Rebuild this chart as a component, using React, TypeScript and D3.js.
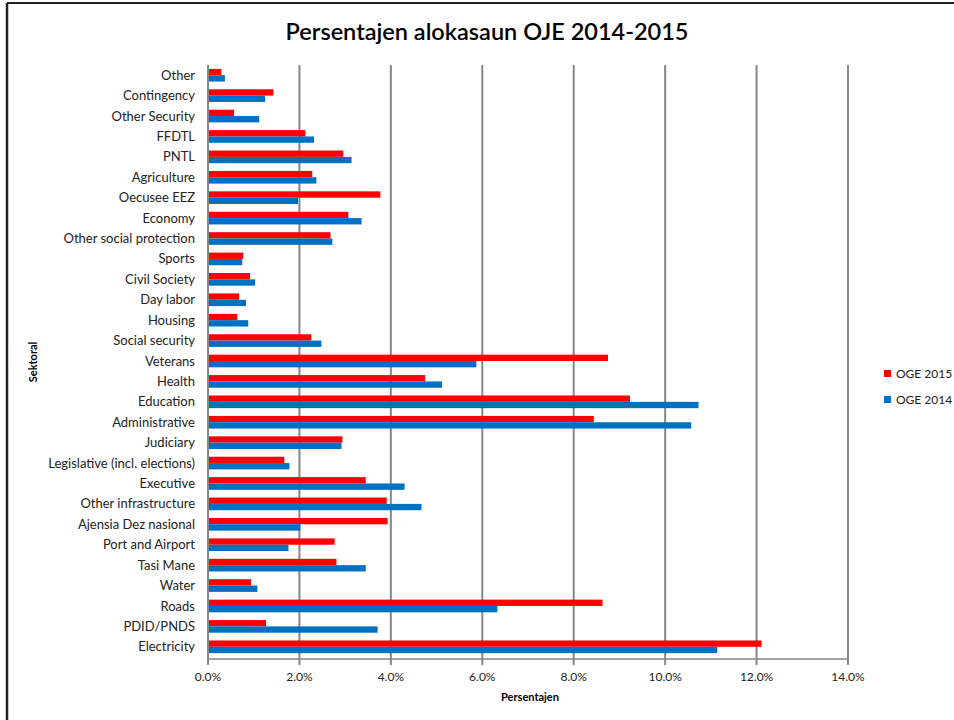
import React from "react";
import * as d3 from "d3";

const categories = [
  "Other", "Contingency", "Other Security", "FFDTL", "PNTL", "Agriculture",
  "Oecusee EEZ", "Economy", "Other social protection", "Sports", "Civil Society",
  "Day labor", "Housing", "Social security", "Veterans", "Health", "Education",
  "Administrative", "Judiciary", "Legislative (incl. elections)", "Executive",
  "Other infrastructure", "Ajensia Dez nasional", "Port and Airport", "Tasi Mane",
  "Water", "Roads", "PDID/PNDS", "Electricity",
];

const oge2015 = [
  0.29, 1.43, 0.57, 2.13, 2.96, 2.28, 3.77, 3.07, 2.68, 0.77, 0.92, 0.68, 0.64,
  2.26, 8.75, 4.75, 9.23, 8.44, 2.94, 1.67, 3.45, 3.91, 3.93, 2.77, 2.81, 0.94,
  8.63, 1.27, 12.11,
];

const oge2014 = [
  0.37, 1.25, 1.12, 2.32, 3.14, 2.37, 1.97, 3.36, 2.72, 0.75, 1.03, 0.83, 0.88,
  2.48, 5.87, 5.12, 10.73, 10.57, 2.92, 1.78, 4.30, 4.67, 2.02, 1.76, 3.45, 1.08,
  6.33, 3.71, 11.14,
];

const xTicks = [0, 2, 4, 6, 8, 10, 12, 14];
const seriesNames = ["OGE 2015", "OGE 2014"];
const seriesColors = ["#FF0000", "#0070C0"];
const seriesValues = [oge2015, oge2014];

const W = 954;
const H = 720;
const FONT = "Lato, 'Open Sans', sans-serif";

export default function App() {
  const left = 208;
  const right = 848;
  const top = 65;
  const bottom = 659;

  const x = d3.scaleLinear().domain([0, 14]).range([left, right]);
  const y = d3.scaleBand<string>().domain(categories).range([top, 657]).paddingInner(0.38).paddingOuter(0.19);
  const inner = d3.scaleBand<string>().domain(seriesNames).range([0, y.bandwidth()]);

  return (
    <svg width={W} height={H} style={{ position: "absolute", left: 0, top: 0, background: "#fff" }}>
      <rect x={0} y={0} width={W} height={H} fill="#fff" />
      {/* outer frame */}
      <line x1={7} y1={3} x2={W} y2={3} stroke="#222" strokeWidth={2} />
      <line x1={7} y1={3} x2={7} y2={H} stroke="#222" strokeWidth={2.5} />

      <text x={487} y={40} textAnchor="middle" fontFamily={FONT} fontSize={23.5} fontWeight={600} fill="#000">
        Persentajen alokasaun OJE  2014-2015
      </text>

      {/* gridlines */}
      {xTicks.map((t) => (
        <line key={"g" + t} x1={x(t)} x2={x(t)} y1={top} y2={bottom + 6} stroke="#868686" strokeWidth={2} />
      ))}
      <line x1={left} x2={right} y1={bottom} y2={bottom} stroke="#868686" strokeWidth={1.5} />

      {/* bars */}
      {categories.map((c, i) => (
        <g key={c}>
          {seriesValues.map((vals, s) => (
            <rect
              key={s}
              x={x(0) + 1}
              y={(y(c) as number) + (inner(seriesNames[s]) as number)}
              width={x(vals[i]) - x(0) - 1}
              height={inner.bandwidth()}
              fill={seriesColors[s]}
            />
          ))}
          <text
            x={195}
            y={(y(c) as number) + y.bandwidth() / 2}
            dy="0.35em"
            textAnchor="end"
            fontFamily={FONT}
            fontSize={13}
            fill="#222"
          >
            {c}
          </text>
        </g>
      ))}

      {/* x tick labels */}
      {xTicks.map((t) => (
        <text key={"t" + t} x={x(t)} y={681} textAnchor="middle" fontFamily={FONT} fontSize={12} fill="#222">
          {t.toFixed(1) + "%"}
        </text>
      ))}

      <text x={530} y={701} textAnchor="middle" fontFamily={FONT} fontSize={11} fontWeight={700} fill="#000">
        Persentajen
      </text>
      <text
        transform={`translate(37,${(top + bottom) / 2}) rotate(-90)`}
        textAnchor="middle"
        fontFamily={FONT}
        fontSize={11}
        fontWeight={700}
        fill="#000"
      >
        Sektoral
      </text>

      {/* legend */}
      {seriesNames.map((n, s) => (
        <g key={n} transform={`translate(884,${374 + s * 26})`}>
          <rect x={0} y={-4} width={7} height={7} fill={seriesColors[s]} />
          <text x={12} y={0} dy="0.35em" fontFamily={FONT} fontSize={12} fill="#222">
            {n}
          </text>
        </g>
      ))}
    </svg>
  );
}
